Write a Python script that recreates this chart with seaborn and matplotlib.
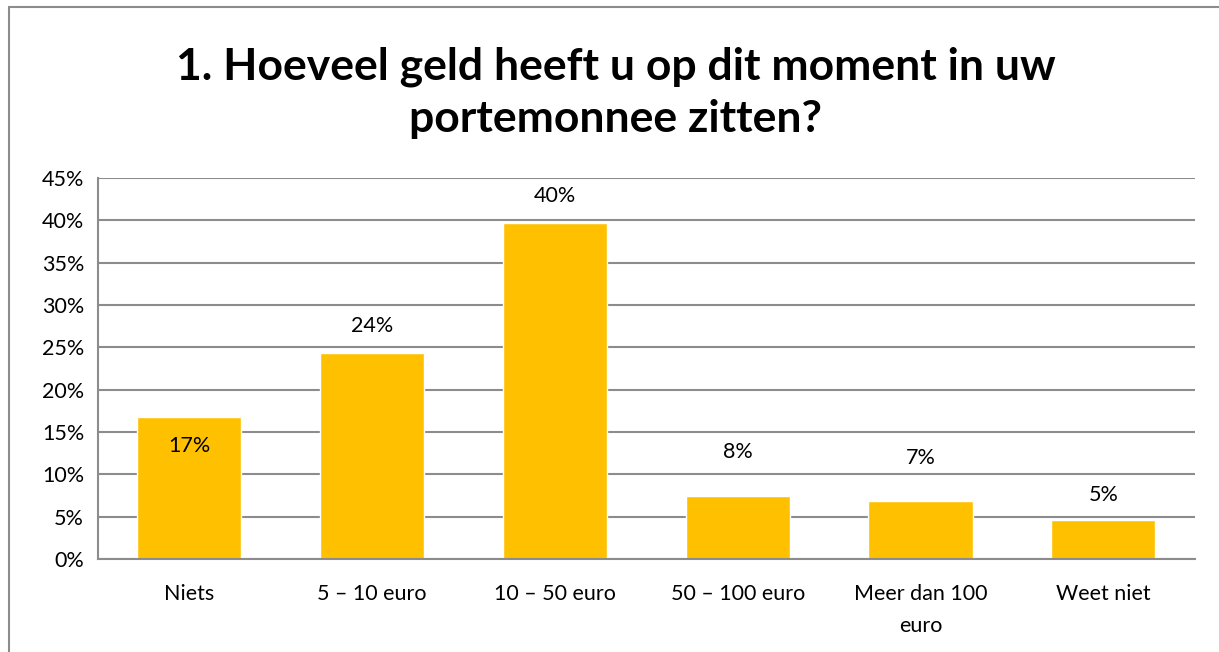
import matplotlib
matplotlib.use("Agg")
import matplotlib.pyplot as plt
from matplotlib.lines import Line2D
from matplotlib.ticker import PercentFormatter, MultipleLocator
import pandas as pd
import seaborn as sns

# data
categories = ["Niets", "5 \u2013 10 euro", "10 \u2013 50 euro", "50 \u2013 100 euro",
              "Meer dan 100\neuro", "Weet niet"]
shares = [16.8, 24.3, 39.7, 7.5, 6.8, 4.6]
share_labels = ["17%", "24%", "40%", "8%", "7%", "5%"]
title = "1. Hoeveel geld heeft u op dit moment in uw\nportemonnee zitten?"

# label offsets in points (Excel placed them by hand)
label_offsets = [-21, 19.5, 19.5, 31, 31, 18]

df = pd.DataFrame({"categorie": categories, "aandeel": shares})

sns.set_theme(style="white")
plt.rcParams["font.family"] = ["Lato", "DejaVu Sans"]

grid_col = "#8c8c8c"
fig = plt.figure(figsize=(12.19, 6.52), dpi=100)
ax = fig.add_axes([0.0804, 0.1426, 0.8996, 0.5844])

ax.yaxis.set_major_locator(MultipleLocator(5))
ax.grid(axis="y", color=grid_col, linewidth=1.5, zorder=0)
ax.set_axisbelow(True)

sns.barplot(data=df, x="categorie", y="aandeel", color="#FFC000",
            width=0.57, saturation=1, ax=ax, zorder=2)

for i, (v, lab, off) in enumerate(zip(shares, share_labels, label_offsets)):
    ax.annotate(lab, (i, v), xytext=(0, off), textcoords="offset points",
                ha="center", va="center", fontsize=15.5, color="black")

ax.set_ylim(0, 45)
ax.set_xlim(-0.5, 5.5)
ax.yaxis.set_major_formatter(PercentFormatter(decimals=0))
ax.set_xlabel("")
ax.set_ylabel("")
ax.tick_params(axis="both", labelsize=15.5, colors="black", length=0)
ax.tick_params(axis="x", pad=18)
ax.tick_params(axis="y", pad=10)
for t in ax.get_xticklabels():
    t.set_linespacing(1.75)

for side in ["top", "right"]:
    ax.spines[side].set_visible(False)
for side in ["left", "bottom"]:
    ax.spines[side].set_color(grid_col)
    ax.spines[side].set_linewidth(1.5)

fig.text(0.505, 0.858, title, ha="center", va="center", fontsize=32,
         fontweight="bold", linespacing=1.38, color="black")

# partial outer frame (left + top edges visible in the reference)
fig.add_artist(Line2D([9 / 1219, 9 / 1219], [0, 1 - 7 / 652],
                      transform=fig.transFigure, color=grid_col, lw=1.5))
fig.add_artist(Line2D([9 / 1219, 1], [1 - 7 / 652, 1 - 7 / 652],
                      transform=fig.transFigure, color=grid_col, lw=1.5))

fig.savefig("out.png", dpi=100, facecolor="white")
